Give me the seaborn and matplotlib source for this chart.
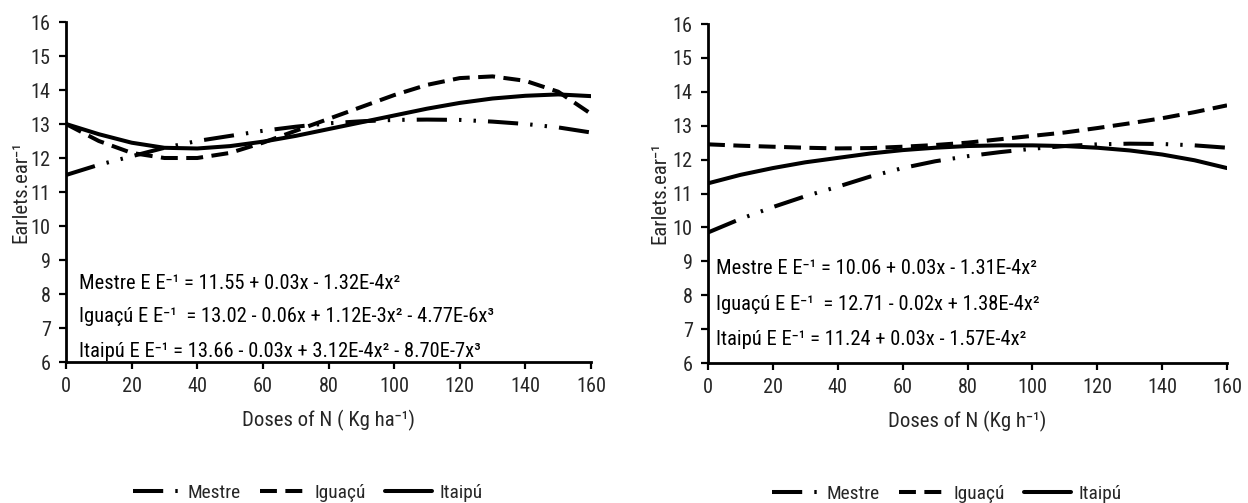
import matplotlib
matplotlib.use("Agg")
import matplotlib.pyplot as plt
import seaborn as sns
import pandas as pd
from matplotlib import font_manager

# ---------------- data ----------------
doses = [0, 10, 20, 30, 40, 50, 60, 70, 80, 90, 100, 110, 120, 130, 140, 150, 160]

# left panel
left_mestre = [11.50, 11.80, 12.05, 12.30, 12.50, 12.65, 12.80, 12.92, 13.02, 13.08, 13.12, 13.13, 13.12, 13.07, 13.00, 12.90, 12.75]
left_iguacu = [13.00, 12.50, 12.15, 12.00, 12.00, 12.15, 12.45, 12.80, 13.15, 13.50, 13.85, 14.15, 14.35, 14.40, 14.27, 13.95, 13.30]
left_itaipu = [13.00, 12.70, 12.45, 12.30, 12.28, 12.35, 12.48, 12.65, 12.85, 13.05, 13.25, 13.45, 13.62, 13.75, 13.83, 13.87, 13.82]

# right panel
right_mestre = [9.85, 10.25, 10.60, 10.92, 11.20, 11.50, 11.75, 11.95, 12.10, 12.22, 12.32, 12.40, 12.45, 12.47, 12.46, 12.42, 12.35]
right_iguacu = [12.45, 12.41, 12.38, 12.35, 12.33, 12.34, 12.38, 12.43, 12.50, 12.60, 12.70, 12.80, 12.93, 13.07, 13.22, 13.40, 13.60]
right_itaipu = [11.30, 11.55, 11.75, 11.92, 12.05, 12.18, 12.28, 12.35, 12.40, 12.42, 12.42, 12.40, 12.35, 12.27, 12.15, 11.98, 11.75]

cultivars = ["Mestre", "Iguaçú", "Itaipú"]

left_eqs = [
    "Mestre E E⁻¹ = 11.55 + 0.03x - 1.32E-4x²",
    "Iguaçú E E⁻¹  = 13.02 - 0.06x + 1.12E-3x² - 4.77E-6x³",
    "Itaipú E E⁻¹ = 13.66 - 0.03x + 3.12E-4x² - 8.70E-7x³",
]
right_eqs = [
    "Mestre E E⁻¹ = 10.06 + 0.03x - 1.31E-4x²",
    "Iguaçú E E⁻¹  = 12.71 - 0.02x + 1.38E-4x²",
    "Itaipú E E⁻¹ = 11.24 + 0.03x - 1.57E-4x²",
]
xlabels = ["Doses of N ( Kg ha⁻¹)", "Doses of N (Kg h⁻¹)"]
ylabel = "Earlets.ear⁻¹"
xticks = [0, 20, 40, 60, 80, 100, 120, 140, 160]
yticks = [6, 7, 8, 9, 10, 11, 12, 13, 14, 15, 16]

# ---------------- style ----------------
sns.set_theme(style="white")

# look for a narrow / condensed sans face (reference uses Arial Narrow)
entries = font_manager.fontManager.ttflist
main_font, stretch = "Liberation Sans", "normal"
prefs = ["Liberation Sans Narrow", "Arial Narrow", "Roboto Condensed", "Open Sans Condensed"]
found = False
for p in prefs:
    if any(e.name == p for e in entries):
        main_font, stretch, found = p, "normal", True
        break
if not found:
    for fam in ["Liberation Sans", "Roboto", "Noto Sans", "Open Sans", "DejaVu Sans"]:
        c = [e for e in entries if e.name == fam and e.stretch in ("condensed", "semi-condensed", 75, 87)
             and e.style == "normal" and e.weight in (400, "normal", "regular")]
        if c:
            main_font, stretch, found = fam, c[0].stretch, True
            break

plt.rcParams["font.family"] = [main_font, "DejaVu Sans"]
plt.rcParams["font.stretch"] = stretch

fig = plt.figure(figsize=(12.48, 5.03), dpi=100)
W, H = 1248, 503

# scale font sizes so the long equation has the reference's width (~400 px)
probe = fig.text(0, 0, left_eqs[2], fontsize=16)
fig.canvas.draw()
wpx = probe.get_window_extent().width
probe.remove()
k = max(0.72, min(1.06, 402.0 / wpx))
fs_eq = 16 * k
fs_tick = 15.8 * max(k, 0.85)
fs_lab = 16.2 * max(k, 0.85)
fs_leg = 15.2 * max(k, 0.85)

styles = {
    "Mestre": (0, (7.5, 3.0, 0.6, 3.0, 0.6, 3.0)),
    "Iguaçú": (0, (4.2, 2.1)),
    "Itaipú": "-",
}

ax_l = fig.add_axes([66 / W, (H - 362) / H, 525 / W, 340 / H])
ax_r = fig.add_axes([708 / W, (H - 363) / H, 519 / W, 339 / H])

panels = [
    (ax_l, [left_mestre, left_iguacu, left_itaipu], left_eqs, xlabels[0], [8.3, 7.33, 6.32], 4.0, -0.068),
    (ax_r, [right_mestre, right_iguacu, right_itaipu], right_eqs, xlabels[1], [8.78, 7.72, 6.68], 2.5, -0.074),
]

for ax, series, eqs, xl, eq_y, eq_x, ylab_x in panels:
    rows = []
    for name, vals in zip(cultivars, series):
        for d, v in zip(doses, vals):
            rows.append({"dose": d, "value": v, "cultivar": name})
    df = pd.DataFrame(rows)
    for name in cultivars:
        sns.lineplot(data=df[df.cultivar == name], x="dose", y="value", ax=ax,
                     color="black", linewidth=2.9, linestyle=styles[name], label=name,
                     legend=False)
    ax.set_xlim(0, 160)
    ax.set_ylim(6, 16)
    ax.set_xticks(xticks)
    ax.set_yticks(yticks)
    ax.tick_params(axis="both", direction="out", length=5, width=1.6, color="black",
                   labelsize=fs_tick, pad=6, left=True, bottom=True)
    for s in ["top", "right"]:
        ax.spines[s].set_visible(False)
    for s in ["left", "bottom"]:
        ax.spines[s].set_color("black")
        ax.spines[s].set_linewidth(2.0)
    ax.set_xlabel(xl, fontsize=fs_lab, labelpad=10)
    ax.set_ylabel(ylabel, fontsize=fs_lab)
    ax.yaxis.set_label_coords(ylab_x, 0.5)
    for t, yy in zip(eqs, eq_y):
        ax.text(eq_x, yy, t, fontsize=fs_eq, ha="left", va="center", color="black")
    handles, labels = ax.get_legend_handles_labels()
    ax.legend(handles, labels, loc="center", bbox_to_anchor=(0.46, -0.385), ncol=3,
              frameon=False, fontsize=fs_leg, handlelength=2.4, columnspacing=1.0,
              handletextpad=0.4)

fig.savefig("out.png", dpi=100)
